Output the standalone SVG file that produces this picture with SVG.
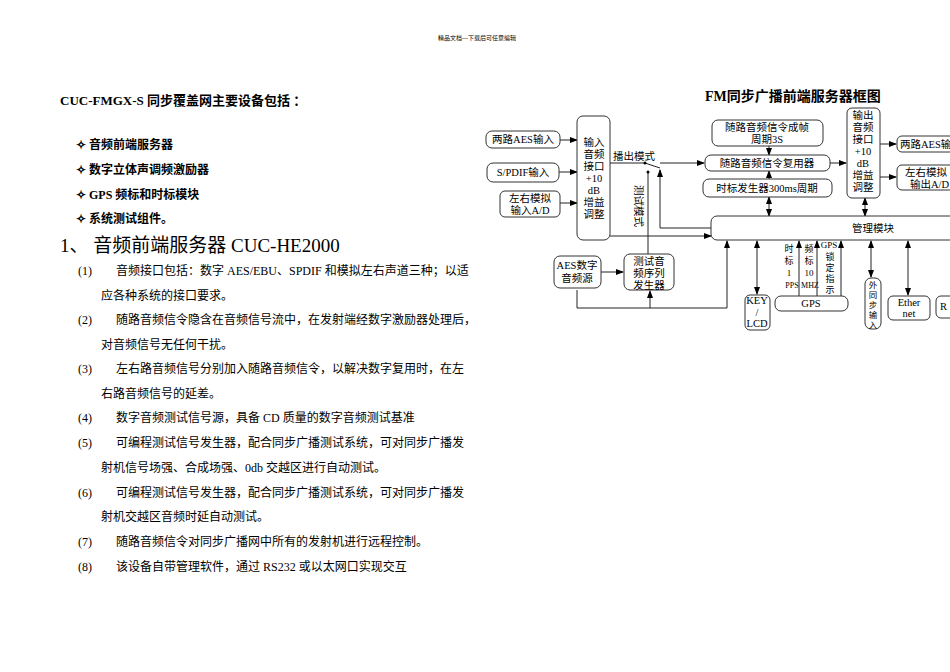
<svg xmlns="http://www.w3.org/2000/svg" width="950" height="672" viewBox="0 0 950 672">
<style>
text{font-family:"Liberation Serif","Noto Sans CJK SC",serif;fill:#000}
.p{font-size:12px}
.b{font-size:10.5px}
.n rect{fill:#fff;stroke:#333;stroke-width:1}
.c line,.c polyline{stroke:#222;stroke-width:1;fill:none}
</style>
<defs>
<marker id="a" markerWidth="8" markerHeight="6" refX="7" refY="3" orient="auto-start-reverse" markerUnits="userSpaceOnUse"><path d="M0,0L8,3L0,6z" fill="#000"/></marker>
</defs>
<rect width="950" height="672" fill="#fff"/>
<text x="477" y="40" font-size="6" text-anchor="middle">精品文档---下载后可任意编辑</text>
<text x="60" y="105" font-size="13" font-weight="bold">CUC-FMGX-S 同步覆盖网主要设备包括 ：</text>
<g font-size="12" font-weight="bold">
<text x="76" y="149">✧ 音频前端服务器</text>
<text x="76" y="174">✧ 数字立体声调频激励器</text>
<text x="76" y="199">✧ GPS 频标和时标模块</text>
<text x="76" y="223">✧ 系统测试组件。</text>
</g>
<text x="60" y="252" font-size="19">1、 音频前端服务器 CUC-HE2000</text>
<g class="p">
<text x="78" y="275">(1)　　音频接口包括：数字 AES/EBU、SPDIF 和模拟左右声道三种；以适</text>
<text x="101" y="300">应各种系统的接口要求。</text>
<text x="78" y="324">(2)　　随路音频信令隐含在音频信号流中，在发射端经数字激励器处理后，</text>
<text x="101" y="349">对音频信号无任何干扰。</text>
<text x="78" y="373">(3)　　左右路音频信号分别加入随路音频信令，以解决数字复用时，在左</text>
<text x="101" y="398">右路音频信号的延差。</text>
<text x="78" y="422">(4)　　数字音频测试信号源，具备 CD 质量的数字音频测试基准</text>
<text x="78" y="447">(5)　　可编程测试信号发生器，配合同步广播测试系统，可对同步广播发</text>
<text x="101" y="472">射机信号场强、合成场强、0db 交越区进行自动测试。</text>
<text x="78" y="497">(6)　　可编程测试信号发生器，配合同步广播测试系统，可对同步广播发</text>
<text x="101" y="521">射机交越区音频时延自动测试。</text>
<text x="78" y="546">(7)　　随路音频信令对同步广播网中所有的发射机进行远程控制。</text>
<text x="78" y="571">(8)　　该设备自带管理软件，通过 RS232 或以太网口实现交互</text>
</g>
<text x="705" y="101" font-size="14" font-weight="bold">FM同步广播前端服务器框图</text>

<g class="c">
<line x1="560" y1="140" x2="577" y2="140" marker-end="url(#a)"/>
<line x1="559" y1="172" x2="577" y2="172" marker-end="url(#a)"/>
<line x1="560" y1="203" x2="577" y2="203" marker-end="url(#a)"/>
<line x1="610" y1="163" x2="645" y2="163"/>
<line x1="645" y1="163" x2="660" y2="168"/>
<line x1="660" y1="163" x2="704" y2="163" marker-end="url(#a)"/>
<polyline points="711,228 660,228 660,170" marker-end="url(#a)"/>
<line x1="648" y1="172" x2="648" y2="254"/>
<line x1="610" y1="236" x2="711" y2="236" marker-end="url(#a)"/>
<line x1="769" y1="146" x2="769" y2="155" marker-end="url(#a)"/>
<line x1="769" y1="179" x2="769" y2="171" marker-end="url(#a)"/>
<line x1="769" y1="197" x2="769" y2="216" marker-start="url(#a)" marker-end="url(#a)"/>
<line x1="830" y1="163" x2="846" y2="163" marker-end="url(#a)"/>
<line x1="865" y1="198" x2="865" y2="216" marker-start="url(#a)" marker-end="url(#a)"/>
<line x1="880" y1="144" x2="896" y2="144" marker-end="url(#a)"/>
<line x1="880" y1="177" x2="896" y2="177" marker-end="url(#a)"/>
<line x1="601" y1="272" x2="623" y2="272" marker-end="url(#a)"/>
<polyline points="577,290 577,308 727,308 727,241" marker-end="url(#a)"/>
<line x1="650" y1="308" x2="650" y2="291" marker-end="url(#a)"/>
<line x1="757" y1="241" x2="757" y2="294" marker-start="url(#a)" marker-end="url(#a)"/>
<line x1="799" y1="296" x2="799" y2="241" marker-end="url(#a)"/>
<line x1="817" y1="296" x2="817" y2="241" marker-end="url(#a)"/>
<line x1="841" y1="296" x2="841" y2="241" marker-end="url(#a)"/>
<line x1="871" y1="241" x2="871" y2="277" marker-start="url(#a)" marker-end="url(#a)"/>
<line x1="908" y1="241" x2="908" y2="295" marker-start="url(#a)" marker-end="url(#a)"/>
</g>
<circle cx="645" cy="163" r="1.5"/><circle cx="648" cy="172" r="1.5"/>

<g class="n">
<g id="aesin"><rect x="486" y="131" width="74" height="17" rx="6"/><text class="b" x="523" y="143" text-anchor="middle">两路AES输入</text></g>
<g id="spdif"><rect x="487" y="163" width="72" height="19" rx="6"/><text class="b" x="523" y="176" text-anchor="middle">S/PDIF输入</text></g>
<g id="adin"><rect x="500" y="191" width="60" height="26" rx="5"/><text class="b" x="530" y="202" text-anchor="middle">左右模拟</text><text class="b" x="530" y="214" text-anchor="middle">输入A/D</text></g>
<g id="inif"><rect x="577" y="116" width="33" height="124" rx="6"/>
<g class="b" text-anchor="middle"><text x="594" y="146">输入</text><text x="594" y="158">音频</text><text x="594" y="170">接口</text><text x="594" y="182">+10</text><text x="594" y="194">dB</text><text x="594" y="206">增益</text><text x="594" y="218">调整</text></g></g>
<text class="b" x="613" y="160">播出模式</text>
<text class="b" transform="translate(635,185) rotate(90)">测试模式</text>
<g id="frame"><rect x="712" y="120" width="111" height="26" rx="6"/><text class="b" x="767" y="131" text-anchor="middle">随路音频信令成帧</text><text class="b" x="767" y="143" text-anchor="middle">周期3S</text></g>
<g id="mux"><rect x="705" y="155" width="125" height="16" rx="6"/><text class="b" x="767" y="167" text-anchor="middle">随路音频信令复用器</text></g>
<g id="clk"><rect x="703" y="179" width="129" height="18" rx="6"/><text class="b" x="767" y="192" text-anchor="middle">时标发生器300ms周期</text></g>
<g id="outif"><rect x="847" y="108" width="33" height="90" rx="5"/>
<g class="b" text-anchor="middle"><text x="863" y="119">输出</text><text x="863" y="131">音频</text><text x="863" y="143">接口</text><text x="863" y="155">+10</text><text x="863" y="167">dB</text><text x="863" y="179">增益</text><text x="863" y="191">调整</text></g></g>
<g id="aesout"><rect x="897" y="136" width="60" height="16" rx="5"/><text class="b" x="900" y="148">两路AES输</text></g>
<g id="daout"><rect x="897" y="165" width="60" height="25" rx="5"/><text class="b" x="905" y="176">左右模拟</text><text class="b" x="910" y="188">输出A/D</text></g>
<g id="mgmt"><rect x="711" y="216" width="250" height="24" rx="6"/><text class="b" x="873" y="232" text-anchor="middle">管理模块</text></g>
<g id="aessrc"><rect x="554" y="256" width="47" height="32" rx="6" stroke="#bbb"/><text class="b" x="577" y="269" text-anchor="middle">AES数字</text><text class="b" x="577" y="282" text-anchor="middle">音频源</text></g>
<g id="testgen"><rect x="624" y="254" width="50" height="36" rx="6" stroke="#bbb"/><text class="b" x="649" y="265" text-anchor="middle">测试音</text><text class="b" x="649" y="277" text-anchor="middle">频序列</text><text class="b" x="649" y="289" text-anchor="middle">发生器</text></g>
<g id="key"><rect x="745" y="295" width="25" height="35" rx="5"/><text class="b" x="757" y="304" text-anchor="middle">KEY</text><text class="b" x="757" y="316" text-anchor="middle">/</text><text class="b" x="757" y="327" text-anchor="middle">LCD</text></g>
<g id="gps"><rect x="775" y="296" width="73" height="15" rx="6"/><text class="b" x="811" y="307" text-anchor="middle">GPS</text></g>
<g font-size="9" text-anchor="middle"><text x="789" y="252">时</text><text x="789" y="264">标</text><text x="789" y="276">1</text><text x="792" y="288" font-size="8">PPS</text>
<text x="809" y="252">频</text><text x="809" y="264">标</text><text x="809" y="276">10</text><text x="810" y="288" font-size="8">MHZ</text>
<text x="829" y="248">GPS</text><text x="830" y="260">锁</text><text x="830" y="271">定</text><text x="830" y="282">指</text><text x="830" y="293">示</text></g>
<g id="ext"><rect x="865" y="278" width="16" height="51" rx="6"/><g font-size="8.5" text-anchor="middle"><text x="873" y="288">外</text><text x="873" y="298">同</text><text x="873" y="308">步</text><text x="873" y="318">输</text><text x="873" y="328">入</text></g></g>
<g id="eth"><rect x="888" y="296" width="42" height="24" rx="5"/><text class="b" x="909" y="306" text-anchor="middle">Ether</text><text class="b" x="909" y="317" text-anchor="middle">net</text></g>
<g id="rs"><rect x="936" y="296" width="30" height="22" rx="5"/><text class="b" x="940" y="310">R</text></g>
</g>
</svg>
